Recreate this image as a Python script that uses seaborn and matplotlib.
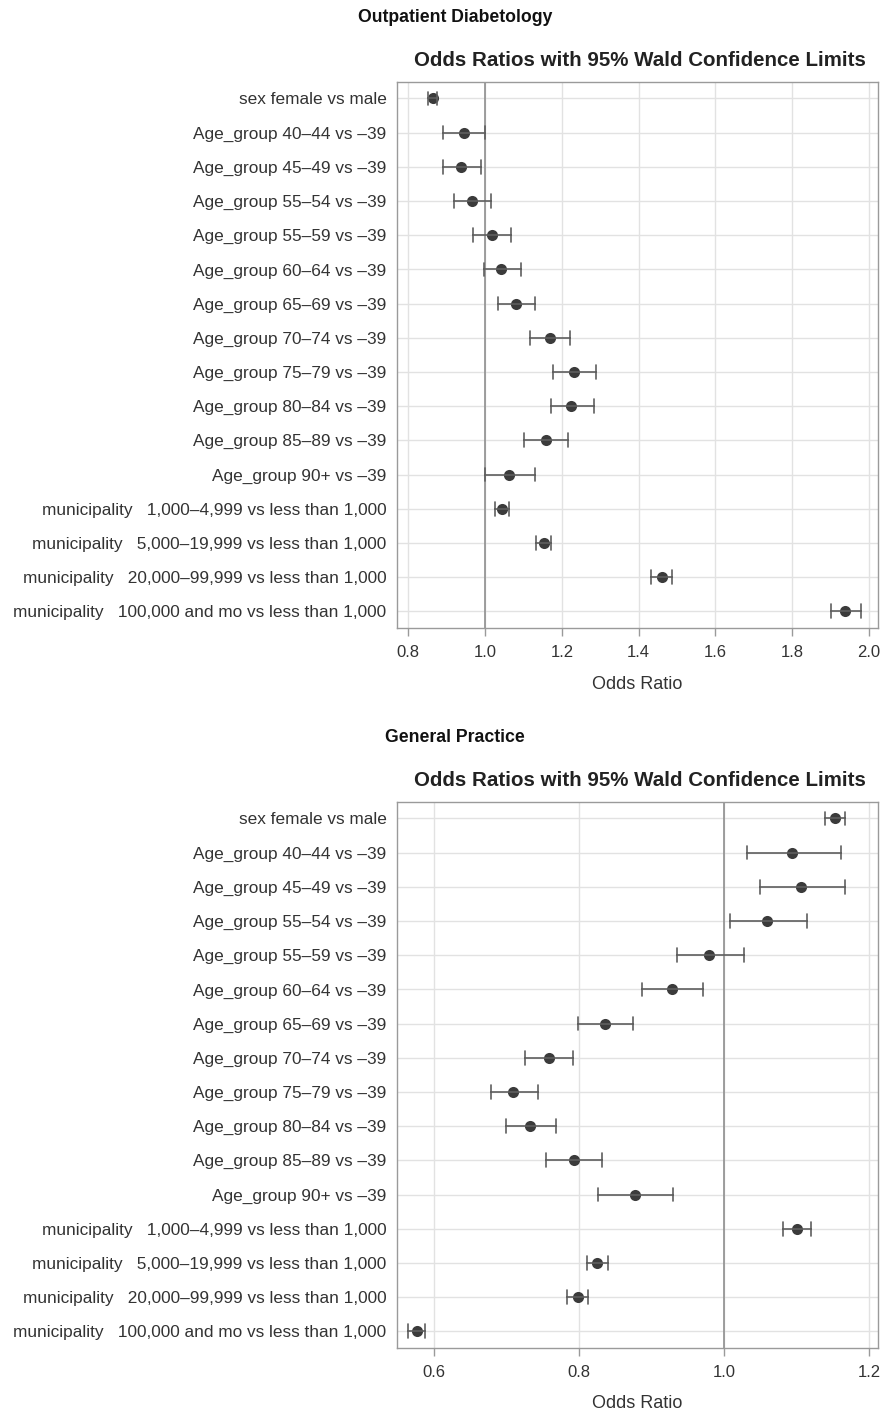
import numpy as np
import pandas as pd
import matplotlib
matplotlib.use("Agg")
import matplotlib.pyplot as plt
import seaborn as sns

effects = [
    "sex female vs male",
    "Age_group 40\u201344 vs \u201339",
    "Age_group 45\u201349 vs \u201339",
    "Age_group 55\u201354 vs \u201339",
    "Age_group 55\u201359 vs \u201339",
    "Age_group 60\u201364 vs \u201339",
    "Age_group 65\u201369 vs \u201339",
    "Age_group 70\u201374 vs \u201339",
    "Age_group 75\u201379 vs \u201339",
    "Age_group 80\u201384 vs \u201339",
    "Age_group 85\u201389 vs \u201339",
    "Age_group 90+ vs \u201339",
    "municipality   1,000\u20134,999 vs less than 1,000",
    "municipality   5,000\u201319,999 vs less than 1,000",
    "municipality   20,000\u201399,999 vs less than 1,000",
    "municipality   100,000 and mo vs less than 1,000",
]

# Outpatient Diabetology
diab_or = [0.864, 0.945, 0.937, 0.967, 1.018, 1.043, 1.080, 1.169, 1.232, 1.225, 1.159, 1.062, 1.044, 1.153, 1.461, 1.937]
diab_lo = [0.852, 0.890, 0.890, 0.919, 0.970, 0.997, 1.033, 1.118, 1.177, 1.171, 1.102, 1.000, 1.025, 1.133, 1.431, 1.900]
diab_hi = [0.875, 0.999, 0.989, 1.015, 1.067, 1.093, 1.129, 1.221, 1.288, 1.284, 1.217, 1.129, 1.063, 1.173, 1.488, 1.978]

# General Practice
gp_or = [1.1535, 1.094, 1.106, 1.059, 0.979, 0.928, 0.836, 0.758, 0.709, 0.732, 0.793, 0.877, 1.1006, 0.8246, 0.799, 0.576]
gp_lo = [1.1397, 1.032, 1.0496, 1.008, 0.9345, 0.887, 0.799, 0.725, 0.678, 0.699, 0.754, 0.826, 1.081, 0.811, 0.783, 0.564]
gp_hi = [1.1669, 1.161, 1.1669, 1.1144, 1.028, 0.971, 0.874, 0.791, 0.743, 0.768, 0.832, 0.930, 1.120, 0.840, 0.8126, 0.5876]

diab_ticks = [0.8, 1.0, 1.2, 1.4, 1.6, 1.8, 2.0]
gp_ticks = [0.6, 0.8, 1.0, 1.2]

sns.set_theme(style="white")
plt.rcParams["font.family"] = ["Liberation Sans", "DejaVu Sans"]

W, H = 884, 1414
fig = plt.figure(figsize=(W / 100, H / 100), dpi=100)


def long_df(est, lo, hi):
    rows = []
    for e, a, b, c in zip(effects, lo, est, hi):
        for v in (a, b, c):
            rows.append({"effect": e, "value": v})
    return pd.DataFrame(rows)


def panel(top_px, bottom_px, est, lo, hi, xlim, ticks, heading, heading_y, title_y, xlabel_y):
    left, right = 397, 878
    ax = fig.add_axes([left / W, 1 - bottom_px / H, (right - left) / W, (bottom_px - top_px) / H])
    df = long_df(est, lo, hi)
    sns.pointplot(
        data=df, x="value", y="effect", order=effects,
        estimator="median", errorbar=lambda v: (v.min(), v.max()),
        linestyle="none", marker="o", markersize=8, markeredgewidth=0,
        color="#3b3b3b", capsize=0.4,
        err_kws={"linewidth": 1.2, "color": "#5f5f5f"},
        ax=ax,
    )
    ax.grid(True, axis="both", color="#e2e2e2", linewidth=1.0)
    ax.set_axisbelow(True)
    ax.axvline(1.0, color="#8f8f8f", linewidth=1.2, zorder=1.5)
    ax.set_xlim(*xlim)
    ax.set_ylim(len(effects) - 1 + 0.49, -0.49)
    ax.set_xticks(ticks)
    ax.set_xticklabels([f"{t:.1f}" for t in ticks])
    ax.set_ylabel("")
    ax.set_xlabel("")
    for s in ax.spines.values():
        s.set_color("#9a9a9a")
        s.set_linewidth(1.0)
    ax.tick_params(axis="x", colors="#9a9a9a", labelcolor="#333333", labelsize=12,
                   length=5.5, width=1, direction="out", bottom=True, pad=7)
    ax.tick_params(axis="y", colors="#9a9a9a", labelcolor="#333333", labelsize=12.4,
                   length=0, width=1, left=False, pad=7.5)
    fig.text(637 / W, 1 - xlabel_y / H, "Odds Ratio", ha="center", va="center",
             fontsize=13, color="#333333")
    fig.text(640 / W, 1 - title_y / H, "Odds Ratios with 95% Wald Confidence Limits",
             ha="center", va="center", fontsize=14.8, fontweight="bold", color="#222222")
    fig.text(455 / W, 1 - heading_y / H, heading, ha="center", va="center",
             fontsize=12.7, fontweight="bold", color="#111111")
    return ax


panel(81.7, 628, diab_or, diab_lo, diab_hi, (0.771, 2.023), diab_ticks,
      "Outpatient Diabetology", 17, 60, 684)
panel(801.7, 1348, gp_or, gp_lo, gp_hi, (0.5485, 1.2124), gp_ticks,
      "General Practice", 738, 781, 1403)

fig.savefig("out.png", dpi=100)
